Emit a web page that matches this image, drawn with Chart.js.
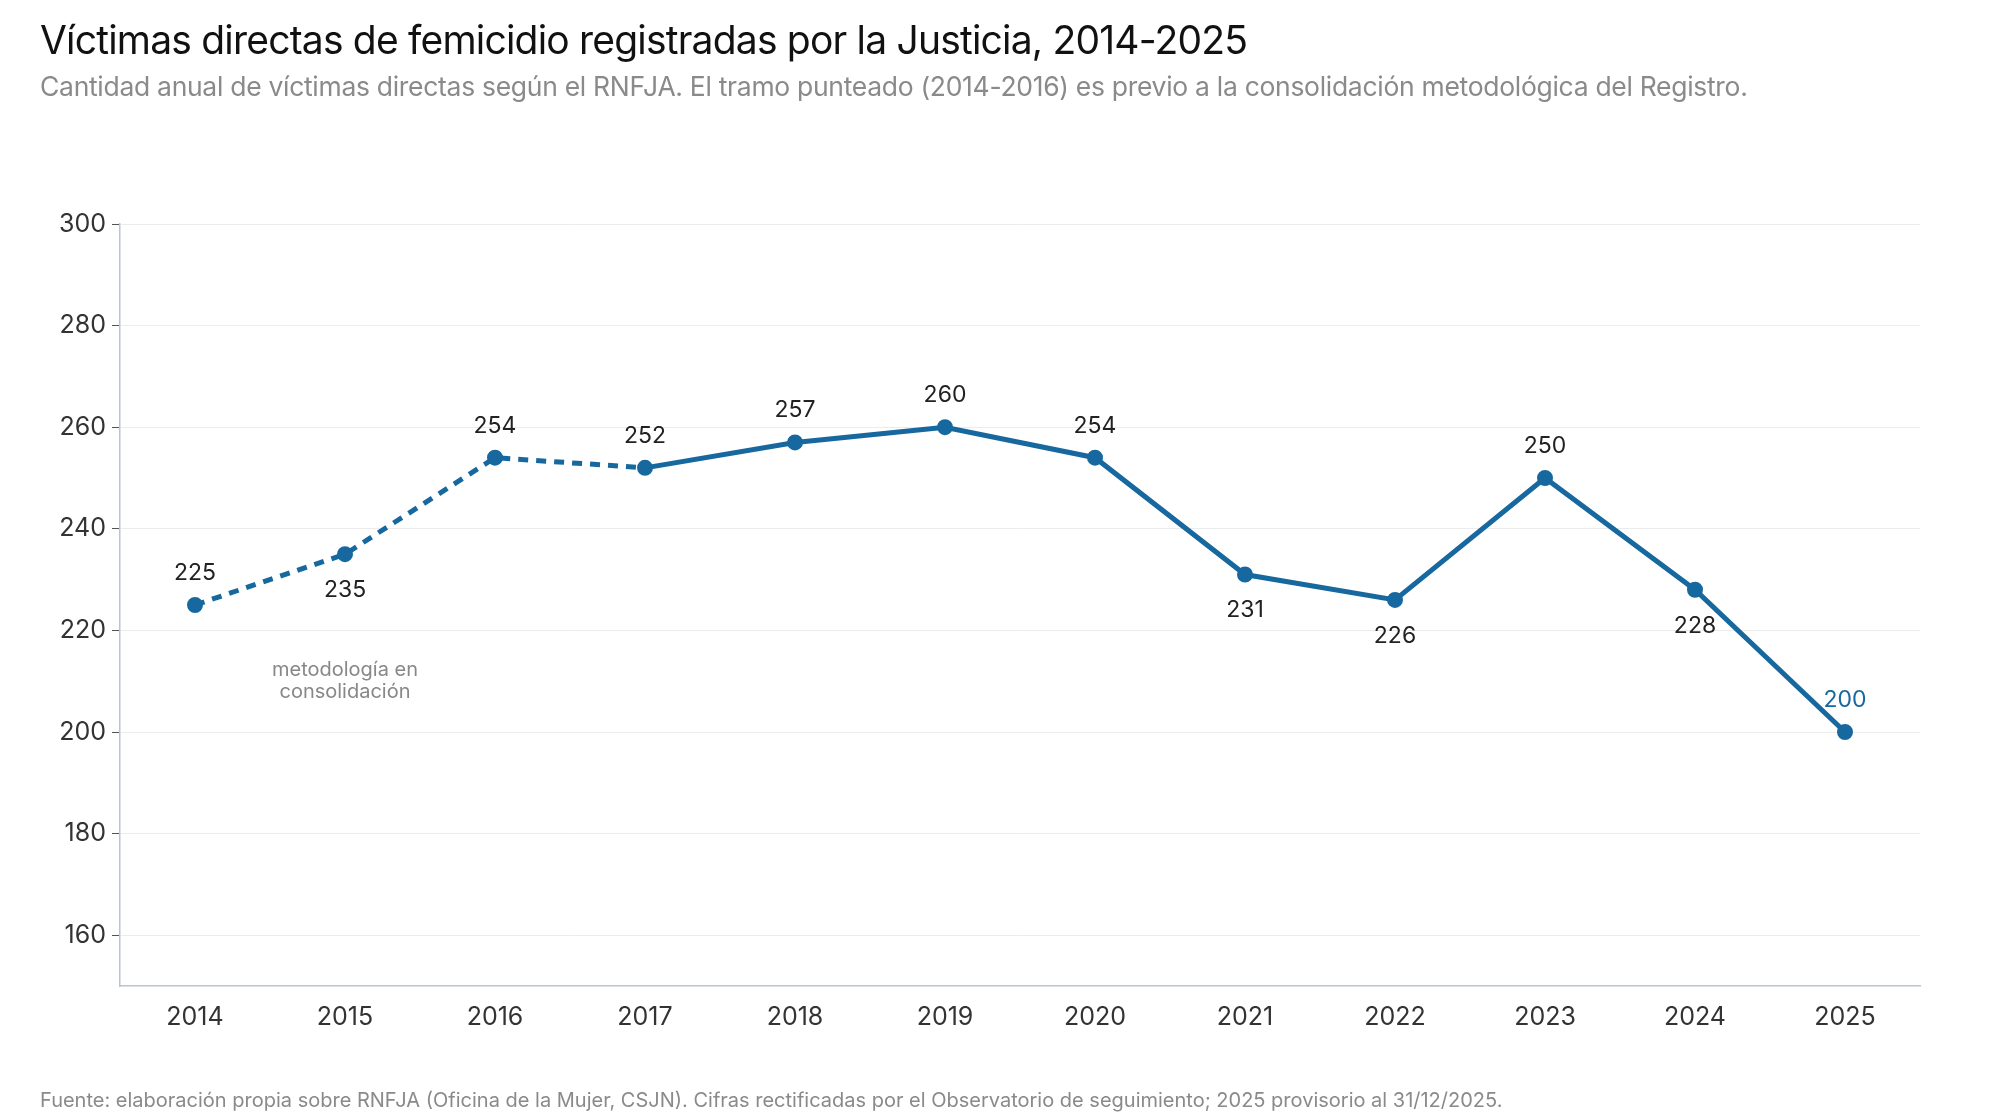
<!DOCTYPE html>
<html>
<head>
<meta charset="utf-8">
<script src="https://cdn.jsdelivr.net/npm/chart.js@4"></script>
<style>
  body { margin: 0; background: #fff; }
  #wrap { position: relative; width: 2000px; height: 1120px; }
</style>
</head>
<body>
<div id="wrap"><canvas id="chart" width="2000" height="1120"></canvas></div>
<script>
const years = ['2014', '2015', '2016', '2017', '2018', '2019', '2020', '2021', '2022', '2023', '2024', '2025'];
const victims = [225, 235, 254, 252, 257, 260, 254, 231, 226, 250, 228, 200];
const labelBelow = [false, true, false, false, false, false, false, true, true, false, true, false];
const yTicks = [160, 180, 200, 220, 240, 260, 280, 300];

const blue = '#16689f';
const font = 'Inter, "Noto Sans", sans-serif';

const textPlugin = {
    id: 'texts',
    afterDatasetsDraw(chart) {
        const c = chart.ctx;
        const meta = chart.getDatasetMeta(0);
        c.save();
        c.textAlign = 'center';
        c.textBaseline = 'middle';
        c.font = '23px ' + font;
        meta.data.forEach((pt, i) => {
            c.fillStyle = i === victims.length - 1 ? blue : '#222';
            const dy = labelBelow[i] ? 36 : -32;
            c.fillText(victims[i], pt.x, pt.y + dy);
        });
        // note under the dotted segment
        const x = chart.scales.x.getPixelForValue(1);
        const y = chart.scales.y;
        c.fillStyle = '#888';
        c.font = '20px ' + font;
        c.fillText('metodología en', x, y.getPixelForValue(212.3));
        c.fillText('consolidación', x, y.getPixelForValue(207.8));

        c.textAlign = 'left';
        c.textBaseline = 'alphabetic';
        c.fillStyle = '#111';
        c.letterSpacing = '-0.8px';
        c.font = '39px ' + font;
        c.fillText('Víctimas directas de femicidio registradas por la Justicia, 2014-2025', 40, 54);
        c.fillStyle = '#8a8a8a';
        c.letterSpacing = '-0.3px';
        c.font = '26.5px ' + font;
        c.fillText('Cantidad anual de víctimas directas según el RNFJA. El tramo punteado (2014-2016) es previo a la consolidación metodológica del Registro.', 40, 96);
        c.letterSpacing = '0px';
        c.font = '20px ' + font;
        c.fillText('Fuente: elaboración propia sobre RNFJA (Oficina de la Mujer, CSJN). Cifras rectificadas por el Observatorio de seguimiento; 2025 provisorio al 31/12/2025.', 40, 1107);
        c.restore();
    }
};

new Chart(document.getElementById('chart'), {
    type: 'line',
    data: {
        labels: years,
        datasets: [{
            data: victims,
            borderColor: blue,
            backgroundColor: blue,
            borderWidth: 5,
            pointRadius: 5.5,
            pointHoverRadius: 5.5,
            tension: 0,
            segment: {
                borderDash: ctx => ctx.p1DataIndex <= 3 ? [10, 8] : undefined
            }
        }]
    },
    options: {
        responsive: false,
        animation: false,
        layout: { padding: { top: 224, right: 80, left: 0, bottom: 0 } },
        plugins: { legend: { display: false }, tooltip: { enabled: false } },
        scales: {
            x: {
                offset: true,
                afterFit: s => { s.height = 134; },
                border: { color: '#b8c4d0', width: 1.5 },
                grid: { display: false, drawTicks: true, tickLength: 8, tickColor: '#555' },
                ticks: { color: '#333', font: { family: font, size: 25 }, padding: 8 }
            },
            y: {
                min: 150,
                max: 300,
                afterFit: s => { s.width = 120; },
                afterBuildTicks: s => { s.ticks = yTicks.map(v => ({ value: v })); },
                border: { color: '#b8c4d0', width: 1.5 },
                grid: { color: '#ececec', tickColor: '#555', tickLength: 8 },
                ticks: { color: '#333', font: { family: font, size: 25 }, padding: 6 }
            }
        }
    },
    plugins: [textPlugin]
});
</script>
</body>
</html>
